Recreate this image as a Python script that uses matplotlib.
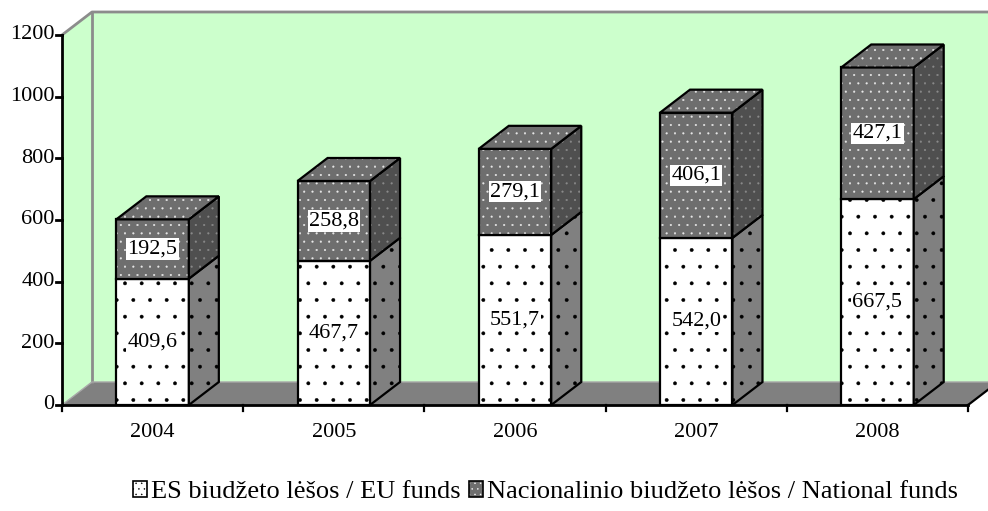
import matplotlib.pyplot as plt
from matplotlib.patches import Polygon, Patch
from matplotlib.legend_handler import HandlerTuple

# data
years = ['2004', '2005', '2006', '2007', '2008']
eu_funds = [409.6, 467.7, 551.7, 542.0, 667.5]
national_funds = [192.5, 258.8, 279.1, 406.1, 427.1]
y_ticks = [0, 200, 400, 600, 800, 1000, 1200]
labels = ['ES biudžeto lėšos / EU funds', 'Nacionalinio biudžeto lėšos / National funds']

plt.rcParams['font.family'] = ['Liberation Serif', 'DejaVu Serif']
plt.rcParams['hatch.linewidth'] = 0.3

fig = plt.figure(figsize=(9.88, 5.11), dpi=100)
ax = fig.add_axes([0, 0, 1, 1])
ax.set_xlim(-0.342, 5.110)
ax.set_ylim(-343.8, 1313.5)
ax.axis('off')

n = len(years)
ymax = y_ticks[-1]
dx, dy = 0.1656, 74.6   # depth of the fake 3d
w = 0.40

WALL = '#ccffcc'
FLOOR = '#808080'
DARK = '#6e6e6e'
DARK_SIDE = '#4f4f4f'


def face(pts, fc, hatch=None, hc='black', z=2, lw=1.6):
    ax.add_patch(Polygon(pts, closed=True, fc=fc, ec='none', lw=0, zorder=z))
    if hatch:
        ax.add_patch(Polygon(pts, closed=True, fc='none', ec=hc, hatch=hatch, lw=0, zorder=z))
    if lw:
        ax.add_patch(Polygon(pts, closed=True, fc='none', ec='black', lw=lw, zorder=z,
                             joinstyle='miter'))


# walls and floor
face([(0, 0), (0, ymax), (dx, ymax + dy), (dx, dy)], WALL, z=0, lw=0)
face([(dx, dy), (dx, ymax + dy), (n + 1, ymax + dy), (n + 1, dy)], WALL, z=0, lw=0)
face([(0, 0), (dx, dy), (n + dx, dy), (n, 0)], FLOOR, z=0, lw=0)
ax.plot([0, dx, n + 1], [ymax, ymax + dy, ymax + dy], color='#8c8c8c', lw=2, zorder=1)
ax.plot([dx, dx], [ymax + dy, dy], color='#8c8c8c', lw=2, zorder=1)
ax.plot([0, dx, n + dx], [0, dy, dy], color='#a8a8a8', lw=1, zorder=1)
ax.plot([n, n + dx], [0, dy], color='black', lw=1.6, zorder=1)

# bars
for i in range(n):
    x0 = i + 0.5 - w / 2
    x1 = i + 0.5 + w / 2
    b, m, t = 0, eu_funds[i], eu_funds[i] + national_funds[i]
    # lower part (EU funds)
    face([(x0, b), (x1, b), (x1, m), (x0, m)], 'white', '.', 'black', z=3)
    face([(x1, b), (x1 + dx, b + dy), (x1 + dx, m + dy), (x1, m)], FLOOR, '.', 'black', z=3)
    # upper part (national funds)
    face([(x0, m), (x1, m), (x1, t), (x0, t)], DARK, '..', '#e8e8e8', z=3)
    face([(x1, m), (x1 + dx, m + dy), (x1 + dx, t + dy), (x1, t)], DARK_SIDE, '..', '#8a8a8a', z=3)
    face([(x0, t), (x1, t), (x1 + dx, t + dy), (x0 + dx, t + dy)], DARK, '..', '#e8e8e8', z=3)
    for lo, hi, v in [(b, m, eu_funds[i]), (m, t, national_funds[i])]:
        ax.text(i + 0.5, (lo + hi) / 2, f'{v:.1f}'.replace('.', ','), ha='center', va='center',
                fontsize=16, zorder=5,
                bbox=dict(boxstyle='square,pad=0.05', fc='white', ec='none'))

# axes
ax.plot([0, 0], [0, ymax], color='black', lw=2, zorder=6)
ax.plot([0, n], [0, 0], color='black', lw=2, zorder=6)
for v in y_ticks:
    ax.plot([-0.033, 0], [v, v], color='black', lw=2, zorder=6)
    ax.text(-0.04, v, str(v), ha='right', va='center', fontsize=16)
for i in range(n + 1):
    ax.plot([i, i], [0, -19.5], color='black', lw=1.6, zorder=6)
for i, yr in enumerate(years):
    ax.text(i + 0.5, -88, yr, ha='center', va='center', fontsize=16)

# legend
h1 = (Patch(fc='white', ec='none'), Patch(fc='none', ec='black', hatch='...', lw=0),
      Patch(fc='none', ec='black', lw=1.2))
h2 = (Patch(fc=DARK, ec='none'), Patch(fc='none', ec='white', hatch='...', lw=0),
      Patch(fc='none', ec='black', lw=1.2))
ax.legend([h1, h2], labels, handler_map={tuple: HandlerTuple(ndivide=1)},
          loc='center', bbox_to_anchor=(0.552, 0.037), ncol=2, frameon=False,
          fontsize=19, handlelength=0.55, handleheight=0.55, handletextpad=0.15,
          columnspacing=0.3)

plt.savefig('out.png', dpi=100)
